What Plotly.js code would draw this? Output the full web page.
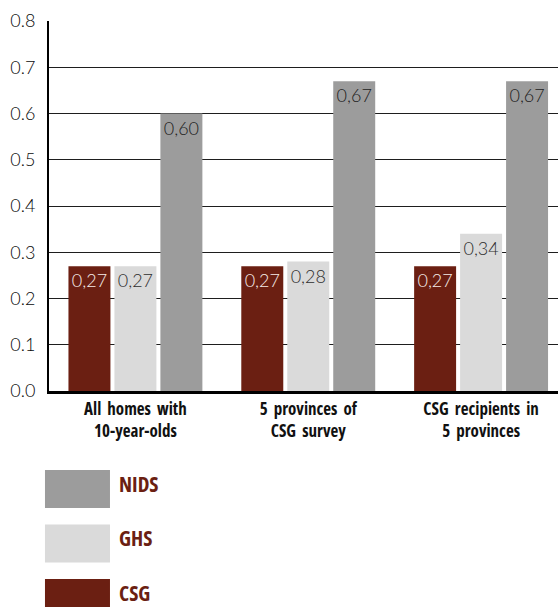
<!DOCTYPE html>
<html>
<head>
<meta charset="utf-8">
<script src="https://cdn.plot.ly/plotly-3.0.1.min.js"></script>
<style>
html,body{margin:0;padding:0;background:#fff;}
#chart{width:558px;height:607px;}
.xtick text{font-stretch:75% !important; word-spacing:3px;}
.annotation-text{font-stretch:75% !important;}
</style>
</head>
<body>
<div id="chart"></div>
<script>
var categories = ["All homes with<br>10-year-olds", "5 provinces of<br>CSG survey", "CSG recipients in<br>5 provinces"];
var seriesNames = ["CSG", "GHS", "NIDS"];
var csgValues = [0.27, 0.27, 0.27];
var ghsValues = [0.27, 0.28, 0.34];
var nidsValues = [0.60, 0.67, 0.67];
var seriesColors = ["#6b1f12", "#dadada", "#9c9c9c"];
var labelColors = ["#f5ece8", "#2e2e2e", "#222222"];
var yTicks = [0, 0.1, 0.2, 0.3, 0.4, 0.5, 0.6, 0.7, 0.8];

var allValues = [csgValues, ghsValues, nidsValues];
function fmt(v) { return v.toFixed(2).replace('.', ','); }

var lightFont = "Lato, 'Open Sans', sans-serif";
var traces = allValues.map(function (vals, i) {
  return {
    type: 'bar',
    name: seriesNames[i],
    x: categories,
    y: vals,
    text: vals.map(fmt),
    textposition: 'inside',
    insidetextanchor: 'end',
    textangle: 0,
    constraintext: 'none',
    cliponaxis: false,
    textfont: {family: lightFont, size: 18, color: labelColors[i], weight: 300},
    marker: {color: seriesColors[i], line: {width: 0}},
    hoverinfo: 'none'
  };
});

// legend drawn as swatches + labels (NIDS top, CSG bottom)
var legendOrder = [2, 1, 0];
var shapes = [];
var annotations = [];
legendOrder.forEach(function (si, k) {
  var y0 = -0.2135 - k * 0.1473;
  shapes.push({type: 'rect', xref: 'paper', yref: 'paper',
    x0: -0.0079, x1: 0.1198, y0: y0, y1: y0 - 0.1027,
    fillcolor: seriesColors[si], line: {width: 0}});
  annotations.push({xref: 'paper', yref: 'paper', x: 0.134, y: y0 - 0.037,
    xanchor: 'left', yanchor: 'middle', showarrow: false,
    text: '<b>' + seriesNames[si] + '</b>',
    font: {family: "'Open Sans', sans-serif", size: 21, color: '#6b1f12'}});
});

var layout = {
  width: 558, height: 607,
  margin: {l: 49, r: 0, t: 21, b: 216, pad: 0},
  paper_bgcolor: '#ffffff', plot_bgcolor: '#ffffff',
  showlegend: false,
  barmode: 'group',
  bargap: 0.202,
  bargroupgap: 0.087,
  xaxis: {
    type: 'category',
    range: [-0.5, 2.445],
    showline: true, linecolor: '#000000', linewidth: 2.5,
    ticks: '', showgrid: false, zeroline: false,
    tickfont: {family: "'Open Sans', 'Noto Sans', sans-serif", size: 17, color: '#111111', weight: 700},
    ticklabelstandoff: 1,
    fixedrange: true
  },
  yaxis: {
    range: [0, 0.8],
    tickvals: yTicks,
    tickformat: '.1f',
    showline: true, linecolor: '#000000', linewidth: 2,
    showgrid: true, gridcolor: '#1e1e1e', gridwidth: 1,
    zeroline: false,
    ticks: '',
    ticklabelstandoff: 8,
    tickfont: {family: lightFont, size: 18, color: '#0a0a0a', weight: 300},
    fixedrange: true
  },
  shapes: shapes,
  annotations: annotations
};

Plotly.newPlot('chart', traces, layout, {displayModeBar: false, staticPlot: true});
</script>
</body>
</html>
